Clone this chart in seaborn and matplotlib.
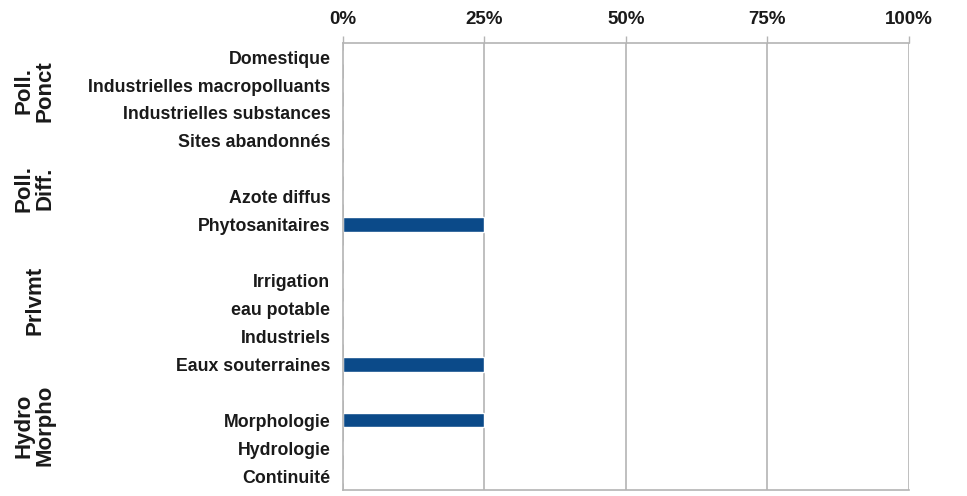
import pandas
import seaborn as sns
from matplotlib import pyplot as plt
from matplotlib import transforms
from matplotlib.ticker import PercentFormatter, FixedLocator

# groups and their categories (top to bottom)
GROUPS = ["Poll.\nPonct", "Poll.\nDiff.", "Prlvmt", "Hydro\nMorpho"]
PONCT = ["Domestique", "Industrielles macropolluants", "Industrielles substances", "Sites abandonnés"]
DIFF = ["Azote diffus", "Phytosanitaires"]
PRLVMT = ["Irrigation", "eau potable", "Industriels", "Eaux souterraines"]
HYDRO = ["Morphologie", "Hydrologie", "Continuité"]

PONCT_VALUES = [0, 0, 0, 0]
DIFF_VALUES = [0, 0.25]
PRLVMT_VALUES = [0, 0, 0, 0.25]
HYDRO_VALUES = [0.25, 0, 0]

X_TICKS = [0, 0.25, 0.5, 0.75, 1.0]

BAR_COLOR = "#0b4a89"
GRID_COLOR = "#b4b4b4"
TEXT_COLOR = "#1a1a1a"


def build_frame():
    # a blank slot is inserted before every group except the first
    rows, order, labels, spans = [], [], [], []
    blocks = [(PONCT, PONCT_VALUES), (DIFF, DIFF_VALUES), (PRLVMT, PRLVMT_VALUES), (HYDRO, HYDRO_VALUES)]
    for g, (cats, vals) in enumerate(blocks):
        start = len(order)
        if g > 0:
            key = f"_gap{g}"
            order.append(key)
            labels.append("")
            rows.append([key, 0.0])
        for cat, val in zip(cats, vals):
            order.append(cat)
            labels.append(cat)
            rows.append([cat, val])
        spans.append((start, len(order) - 1))
    df = pandas.DataFrame(rows, columns=["category", "value"])
    return df, order, labels, spans


df, order, labels, spans = build_frame()

sns.set_style("white")
plt.rcParams["font.family"] = ["Liberation Sans", "DejaVu Sans"]
plt.rcParams["font.weight"] = "bold"

fig = plt.figure(figsize=(9.67, 4.96), dpi=100)
ax = fig.add_axes([0.3547, 0.012, 0.5853, 0.901])

sns.barplot(data=df, x="value", y="category", order=order, orient="h",
            color=BAR_COLOR, saturation=1, width=0.52, ax=ax, errorbar=None)

ax.set_xlim(0, 1)
ax.set_ylim(len(order) - 0.5, -0.5)
ax.xaxis.tick_top()
ax.xaxis.set_major_locator(FixedLocator(X_TICKS))
ax.xaxis.set_major_formatter(PercentFormatter(1.0, decimals=0))
ax.tick_params(axis="x", length=5, width=1, color=GRID_COLOR, pad=6,
               labelsize=13.5, labelcolor=TEXT_COLOR)
ax.grid(axis="x", color=GRID_COLOR, linewidth=1.2)
ax.set_axisbelow(True)

ax.set_yticks(range(len(order)))
ax.set_yticklabels(labels)
ax.tick_params(axis="y", length=0, pad=9, labelsize=12.8, labelcolor=TEXT_COLOR)
ax.set_yticks([i + 0.5 for i in range(-1, len(order))], minor=True)
ax.tick_params(axis="y", which="minor", length=3, color=GRID_COLOR)

for side in ["top", "left", "bottom"]:
    ax.spines[side].set_color(GRID_COLOR)
    ax.spines[side].set_linewidth(1.2)
ax.spines["right"].set_visible(False)

ax.set_xlabel("")
ax.set_ylabel("")

# group labels on the far left
trans = transforms.blended_transform_factory(ax.transAxes, ax.transData)
for name, (start, stop) in zip(GROUPS, spans):
    center = (start + stop) / 2 - 0.3
    ax.text(-0.545, center, name, transform=trans, rotation=90,
            ha="center", va="center", fontsize=16, color=TEXT_COLOR,
            linespacing=0.95)

fig.savefig("out.png", dpi=100)
